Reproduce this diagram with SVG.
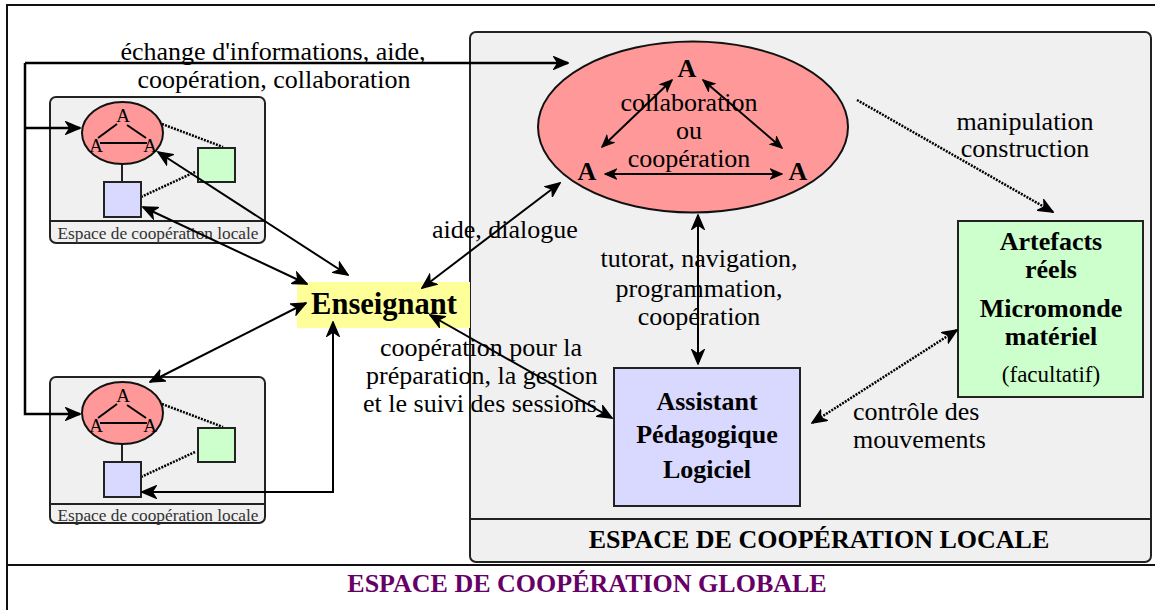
<svg xmlns="http://www.w3.org/2000/svg" width="1155" height="610" viewBox="0 0 1155 610">
<style>
text{font-family:"Liberation Serif","Times New Roman",serif;fill:#000}
.lbl{font-size:26px}
.b{font-weight:bold}
.mid{text-anchor:middle}
.ln{fill:none;stroke:#000;stroke-width:2}
.thick{stroke-width:2.5}
.dot{stroke-dasharray:2,1.2;stroke-width:2.5}
.sml{font-size:17.3px;fill:#333}
</style>
<defs>
<marker id="ah" markerUnits="userSpaceOnUse" viewBox="0 0 16 14" refX="15" refY="7" markerWidth="16" markerHeight="14" orient="auto-start-reverse">
<path d="M1,1 L15,7 L1,13 L5,7 Z" fill="#000" stroke="#000" stroke-width="1.5" stroke-linejoin="miter"/>
</marker>
<marker id="ahs" markerUnits="userSpaceOnUse" viewBox="0 0 16 14" refX="15" refY="7" markerWidth="13" markerHeight="12" orient="auto-start-reverse">
<path d="M1,1 L15,7 L1,13 L5,7 Z" fill="#000" stroke="#000" stroke-width="1.5"/>
</marker>
</defs>

<g id="frame">
<line x1="7" y1="5" x2="1155" y2="5" stroke="#111" stroke-width="2"/>
<line x1="7" y1="4" x2="7" y2="610" stroke="#111" stroke-width="2"/>
<line x1="7" y1="565" x2="1155" y2="565" stroke="#111" stroke-width="2"/>
<text class="b mid" x="587" y="592" style="font-size:26px;fill:#660066">ESPACE DE COOPÉRATION GLOBALE</text>
</g>

<g id="local-space">
<rect x="470" y="32" width="681" height="530" rx="6" fill="#f0f0f0" stroke="#222" stroke-width="2"/>
<line x1="470" y1="519" x2="1151" y2="519" stroke="#222" stroke-width="2"/>
<text class="b mid" x="819" y="548" style="font-size:26px">ESPACE DE COOPÉRATION LOCALE</text>
</g>

<g id="local-box-1">
<rect x="50" y="97" width="215" height="146" rx="6" fill="#f0f0f0" stroke="#222" stroke-width="2"/>
<line x1="50" y1="221" x2="265" y2="221" stroke="#222" stroke-width="2"/>
<text class="sml mid" x="158" y="239">Espace de coopération locale</text>
<line x1="122" y1="164" x2="122" y2="182" stroke="#222" stroke-width="2"/>
<line x1="162" y1="124" x2="223" y2="147" class="ln dot" stroke-width="2"/>
<line x1="141" y1="197" x2="195" y2="172" class="ln dot" stroke-width="2"/>
<ellipse cx="122.5" cy="133" rx="40.5" ry="31" fill="#ff9999" stroke="#111" stroke-width="2"/>
<line x1="98" y1="138" x2="117" y2="124" stroke="#000" stroke-width="2"/>
<line x1="127" y1="125" x2="146" y2="138" stroke="#000" stroke-width="2"/>
<line x1="100" y1="143" x2="147" y2="143" stroke="#000" stroke-width="2"/>
<text class="mid" x="123" y="122" style="font-size:19px">A</text>
<text class="mid" x="96" y="152" style="font-size:19px">A</text>
<text class="mid" x="150" y="152" style="font-size:19px">A</text>
<rect x="198" y="148" width="37" height="34" fill="#ccffcc" stroke="#222" stroke-width="2"/>
<rect x="104" y="182" width="37" height="35" fill="#d9d9ff" stroke="#222" stroke-width="2"/>
</g>

<g id="local-box-2" transform="translate(0,280)">
<rect x="50" y="97" width="215" height="146" rx="6" fill="#f0f0f0" stroke="#222" stroke-width="2"/>
<line x1="50" y1="224" x2="265" y2="224" stroke="#222" stroke-width="2"/>
<text class="sml mid" x="158" y="241">Espace de coopération locale</text>
<line x1="122" y1="164" x2="122" y2="182" stroke="#222" stroke-width="2"/>
<line x1="162" y1="124" x2="223" y2="147" class="ln dot" stroke-width="2"/>
<line x1="141" y1="197" x2="195" y2="172" class="ln dot" stroke-width="2"/>
<ellipse cx="122.5" cy="133" rx="40.5" ry="31" fill="#ff9999" stroke="#111" stroke-width="2"/>
<line x1="98" y1="138" x2="117" y2="124" stroke="#000" stroke-width="2"/>
<line x1="127" y1="125" x2="146" y2="138" stroke="#000" stroke-width="2"/>
<line x1="100" y1="143" x2="147" y2="143" stroke="#000" stroke-width="2"/>
<text class="mid" x="123" y="122" style="font-size:19px">A</text>
<text class="mid" x="96" y="152" style="font-size:19px">A</text>
<text class="mid" x="150" y="152" style="font-size:19px">A</text>
<rect x="198" y="148" width="37" height="34" fill="#ccffcc" stroke="#222" stroke-width="2"/>
<rect x="104" y="182" width="37" height="35" fill="#d9d9ff" stroke="#222" stroke-width="2"/>
</g>

<g id="enseignant">
<rect x="297" y="282" width="173" height="46" fill="#ffff99"/>
<text class="b mid" x="384" y="314" style="font-size:30.5px">Enseignant</text>
</g>

<g id="apprenants">
<ellipse cx="693" cy="127" rx="155" ry="85.5" fill="#ff9999" stroke="#111" stroke-width="2"/>
<text class="b mid" x="687" y="77" style="font-size:26px">A</text>
<text class="b mid" x="587" y="180" style="font-size:26px">A</text>
<text class="b mid" x="798" y="180" style="font-size:26px">A</text>
<text class="lbl mid" x="689" y="111">collaboration</text>
<text class="lbl mid" x="689" y="139">ou</text>
<text class="lbl mid" x="689" y="167">coopération</text>
<line x1="602" y1="147" x2="672" y2="80" class="ln" stroke-width="1.8" marker-start="url(#ahs)" marker-end="url(#ahs)"/>
<line x1="703" y1="80" x2="782" y2="148" class="ln" stroke-width="1.8" marker-start="url(#ahs)" marker-end="url(#ahs)"/>
<line x1="605" y1="174" x2="782" y2="174" class="ln" stroke-width="1.8" marker-start="url(#ahs)" marker-end="url(#ahs)"/>
</g>

<g id="assistant">
<rect x="614" y="368" width="186" height="138" fill="#d9d9ff" stroke="#222" stroke-width="2"/>
<text class="lbl b mid" x="707" y="410">Assistant</text>
<text class="lbl b mid" x="707" y="443">Pédagogique</text>
<text class="lbl b mid" x="707" y="478">Logiciel</text>
</g>

<g id="artefacts">
<rect x="958" y="221" width="185" height="176" fill="#ccffcc" stroke="#222" stroke-width="2"/>
<text class="lbl b mid" x="1051" y="250">Artefacts</text>
<text class="lbl b mid" x="1051" y="278">réels</text>
<text class="lbl b mid" x="1051" y="317">Micromonde</text>
<text class="lbl b mid" x="1051" y="345">matériel</text>
<text class="mid" x="1051" y="382" style="font-size:23px">(facultatif)</text>
</g>

<g id="connectors">
<path d="M25,63 L568,63" class="ln thick" marker-end="url(#ah)"/>
<path d="M25,63 L25,414 L80,414" class="ln thick" marker-end="url(#ah)"/>
<path d="M25,128 L80,128" class="ln thick" marker-end="url(#ah)"/>
<line x1="158" y1="152" x2="348" y2="275" class="ln" marker-start="url(#ah)" marker-end="url(#ah)"/>
<line x1="143" y1="207" x2="307" y2="284" class="ln" marker-start="url(#ah)" marker-end="url(#ah)"/>
<line x1="306" y1="303" x2="150" y2="382" class="ln" marker-start="url(#ah)" marker-end="url(#ah)"/>
<path d="M333,322 L333,492 L142,492" class="ln" marker-start="url(#ah)" marker-end="url(#ah)"/>
<line x1="422" y1="288" x2="560" y2="183" class="ln" marker-start="url(#ah)" marker-end="url(#ah)"/>
<line x1="430" y1="315" x2="612" y2="418" class="ln" marker-start="url(#ah)" marker-end="url(#ah)"/>
<line x1="698" y1="215" x2="698" y2="364" class="ln" marker-start="url(#ah)" marker-end="url(#ah)"/>
<line x1="857" y1="100" x2="1053" y2="212" class="ln dot" marker-end="url(#ah)"/>
<line x1="957" y1="330" x2="812" y2="423" class="ln dot" marker-start="url(#ah)" marker-end="url(#ah)"/>
</g>

<g id="labels">
<text class="lbl mid" x="273" y="60">échange d'informations, aide,</text>
<text class="lbl mid" x="274" y="88">coopération, collaboration</text>
<text class="lbl" x="432" y="238">aide, dialogue</text>
<text class="lbl mid" x="699" y="267">tutorat, navigation,</text>
<text class="lbl mid" x="699" y="297">programmation,</text>
<text class="lbl mid" x="699" y="325">coopération</text>
<text class="lbl mid" x="481" y="356">coopération pour la</text>
<text class="lbl mid" x="482" y="384">préparation, la gestion</text>
<text class="lbl mid" x="480" y="412">et le suivi des sessions</text>
<text class="lbl mid" x="1025" y="130">manipulation</text>
<text class="lbl mid" x="1025" y="157">construction</text>
<text class="lbl" x="853" y="420">contrôle des</text>
<text class="lbl" x="853" y="448">mouvements</text>
</g>
</svg>
